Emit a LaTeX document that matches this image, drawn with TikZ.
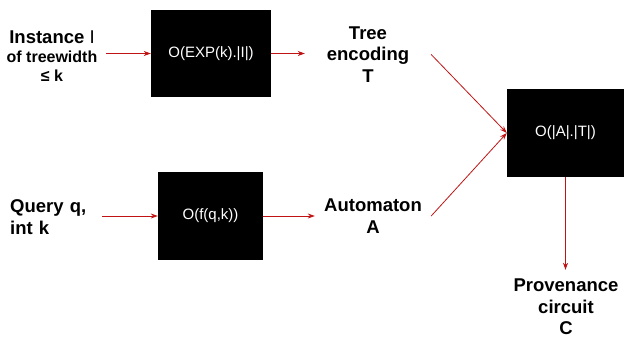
\documentclass[tikz,border=0pt]{standalone}
\usepackage{fontspec}
\setmainfont{Liberation Sans}
\usetikzlibrary{arrows.meta}
\definecolor{linkred}{RGB}{192,20,20}
\begin{document}
\begin{tikzpicture}[x=1pt, y=-1pt,
    cost/.style={fill=black, text=white, inner sep=0pt, font=\fontsize{15}{17}\selectfont},
    txt/.style={inner sep=0pt, align=center, font=\bfseries\fontsize{18.5}{21.5}\selectfont},
    link/.style={draw=linkred, line width=0.8pt, -{Stealth[length=7pt,width=5pt]}}]
    \useasboundingbox (0,0) rectangle (624,339);
    \node[cost, minimum width=120pt, minimum height=87pt] (exp) at (211,53.5) {O(EXP(k).|I|)};
    \node[cost, minimum width=105pt, minimum height=88pt] (fqk) at (210.5,216) {O(f(q,k))};
    \node[cost, minimum width=117pt, minimum height=88pt] (at) at (565.5,133) {O(|A|.|T|)};
    \node[txt, minimum width=108pt] (inst) at (52,56) {Instance {\mdseries I}\\[-2pt]
        {\fontsize{16}{18}\selectfont of treewidth}\\[-3pt]
        {\fontsize{16}{18}\selectfont ≤ k}};
    \node[txt, align=left, text width=92pt, anchor=west] (query) at (10,217) {Query q,\\int k};
    \node[txt, minimum width=126pt] (tree) at (368,54.5) {Tree\\encoding\\T};
    \node[txt, minimum width=116pt] (auto) at (373,216) {Automaton\\A};
    \node[txt, minimum height=74pt] (prov) at (566,307) {Provenance\\circuit\\C};
    \draw[link] (inst.east |- exp.west) -- (exp.west);
    \draw[link] (exp.east) -- (tree.west |- exp.east);
    \draw[link] (query.east |- fqk.west) -- (fqk.west);
    \draw[link] (fqk.east) -- (auto.west |- fqk.east);
    \draw[link] (tree.east) -- (at.west);
    \draw[link] (auto.east) -- (at.west);
    \draw[link] (at.south) -- (prov.north -| at.south);
    \end{tikzpicture}
\end{document}
